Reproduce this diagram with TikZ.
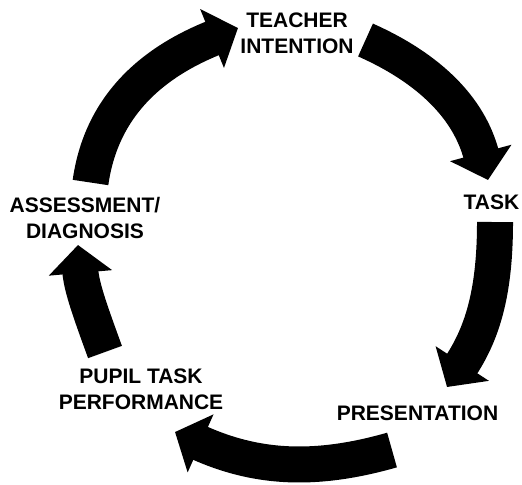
\documentclass[tikz,border=0pt]{standalone}
\usepackage{fontspec}
\setmainfont{Liberation Sans}
\usetikzlibrary{arrows.meta}

\tikzset{
  stage/.style={font=\fontsize{10.5}{13}\selectfont\bfseries, align=center, inner sep=0pt},
  cyclearrow/.style={line width=18pt, -{Triangle[width=31pt,length=14pt]}}
}

\begin{document}
\begin{tikzpicture}[x=0.5pt,y=0.5pt]
    \useasboundingbox (0,0) rectangle (522,484);

    % Stages
    \node[stage] (teacher) at (297,450.5) {TEACHER\\INTENTION};
    \node[stage] (task) at (491.5,281.5) {TASK};
    \node[stage] (present) at (417.5,70.5) {PRESENTATION};
    \node[stage] (pupil) at (141,94.5) {PUPIL TASK\\PERFORMANCE};
    \node[stage] (assess) at (85,266.5) {ASSESSMENT/\\DIAGNOSIS};

    % Arrow ends
    \coordinate (s1) at (90.5,301.5);
    \coordinate (e1) at (238,456);
    \coordinate (s2) at (365.5,444);
    \coordinate (e2) at (488,304);
    \coordinate (s3) at (495,262);
    \coordinate (e3) at (447,97);
    \coordinate (s4) at (392,34);
    \coordinate (e4) at (175,52);
    \coordinate (s5) at (105,132);
    \coordinate (e5) at (78,239);

    % Cycle
    \draw[cyclearrow] (s1) to[out=82,in=202] (e1);
    \draw[cyclearrow] (s2) to[out=-24,in=105] (e2);
    \draw[cyclearrow] (s3) to[out=-90,in=57] (e3);
    \draw[cyclearrow] (s4) to[out=196,in=336] (e4);
    \draw[cyclearrow] (s5) to[out=110,in=275] (e5);
\end{tikzpicture}
\end{document}
